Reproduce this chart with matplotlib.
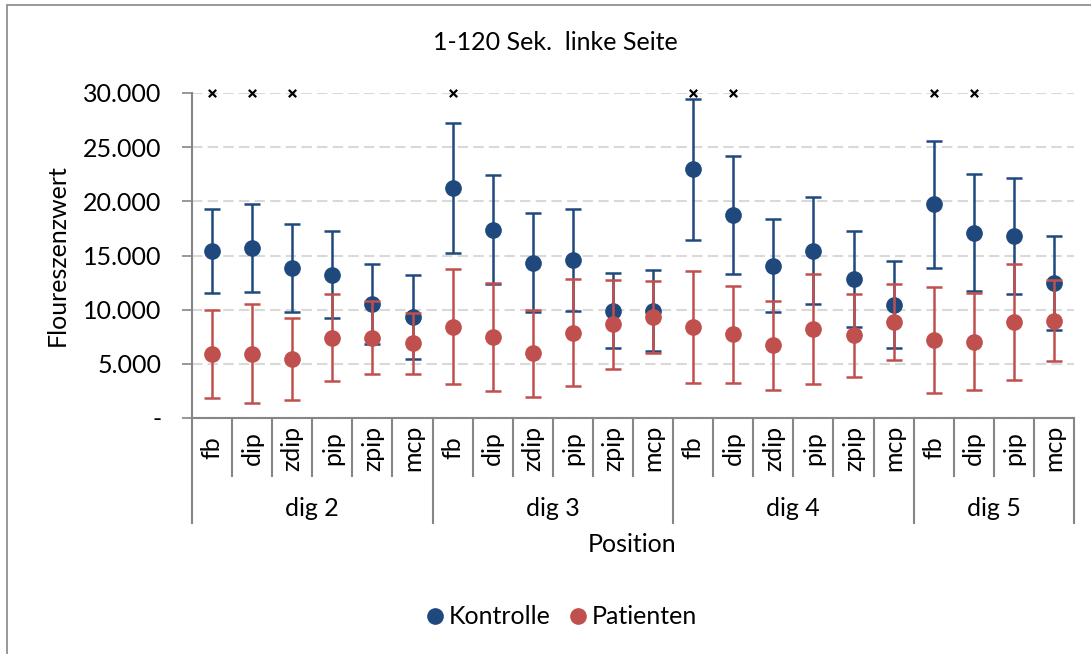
import matplotlib.pyplot as plt
import matplotlib.transforms as mtransforms
import numpy as np

plt.rcParams["font.family"] = ["Lato", "DejaVu Sans"]

# positions per finger
groups = ["dig 2", "dig 3", "dig 4", "dig 5"]
group_sizes = [6, 6, 6, 4]
positions = [
    "fb", "dip", "zdip", "pip", "zpip", "mcp",
    "fb", "dip", "zdip", "pip", "zpip", "mcp",
    "fb", "dip", "zdip", "pip", "zpip", "mcp",
    "fb", "dip", "pip", "mcp",
]

# mean and standard deviation of the fluorescence value
kontrolle_mean = [
    15450, 15720, 13820, 13230, 10520, 9320,
    21200, 17390, 14310, 14590, 9910, 9910,
    22950, 18740, 14060, 15450, 12830, 10460,
    19720, 17110, 16800, 12430,
]
kontrolle_sd = [
    3880, 4050, 4060, 4020, 3710, 3890,
    5990, 5050, 4570, 4710, 3490, 3770,
    6540, 5490, 4310, 4910, 4400, 4030,
    5850, 5420, 5320, 4340,
]
patienten_mean = [
    5880, 5910, 5480, 7390, 7420, 6890,
    8430, 7480, 5970, 7880, 8650, 9290,
    8370, 7750, 6710, 8190, 7630, 8860,
    7200, 7020, 8890, 8990,
]
patienten_sd = [
    4050, 4570, 3790, 4020, 3380, 2830,
    5320, 5020, 4030, 4970, 4120, 3320,
    5170, 4480, 4110, 5090, 3860, 3550,
    4920, 4480, 5350, 3720,
]

# positions flagged with an x on the top line
flag_idx = [0, 1, 2, 6, 12, 13, 18, 19]
flag_value = 30000

blue = "#1F497D"
red = "#C0504D"
axis_grey = "#868686"
fs = 18

W, H = 1091, 654
fig = plt.figure(figsize=(W / 100, H / 100), dpi=100)

# axes box in pixels: left 192, right 1074, top 93, bottom 418
left, right, top, bottom = 192, 1074, 93, 418
ax = fig.add_axes([left / W, 1 - bottom / H, (right - left) / W, (bottom - top) / H])

# outer chart border
fig.patches.append(plt.Rectangle((7 / W, -0.1), 1.5, 1 - 5 / H + 0.1,
                                 transform=fig.transFigure, fill=False,
                                 edgecolor=axis_grey, linewidth=1.2))

x = np.arange(len(positions))

ax.errorbar(x, kontrolle_mean, yerr=kontrolle_sd, fmt="o", color=blue,
            markersize=11, elinewidth=1.8, capsize=6, capthick=1.8,
            label="Kontrolle", zorder=3)
ax.errorbar(x, patienten_mean, yerr=patienten_sd, fmt="o", color=red,
            markersize=11, elinewidth=1.8, capsize=6, capthick=1.8,
            label="Patienten", zorder=4)

ax.scatter([x[i] for i in flag_idx], [flag_value] * len(flag_idx),
           marker="x", color="black", s=28, linewidths=1.6,
           clip_on=False, zorder=5)

ax.set_xlim(-0.5, len(positions) - 0.5)
ax.set_ylim(0, 30000)

ax.set_yticks(np.arange(0, 30001, 5000))
ax.set_yticklabels(["-"] + [f"{v:,}".replace(",", ".") for v in range(5000, 30001, 5000)],
                   fontsize=fs)
ax.tick_params(axis="y", direction="out", length=7, width=1.2, color=axis_grey, pad=15)
ax.yaxis.grid(True, color="#D9D9D9", linestyle=(0, (5, 2.5)), linewidth=1.5)
ax.set_axisbelow(True)

for side in ["top", "right"]:
    ax.spines[side].set_visible(False)
for side in ["left", "bottom"]:
    ax.spines[side].set_color(axis_grey)
    ax.spines[side].set_linewidth(1.5)

# two level category axis drawn below the plot
ax.set_xticks([])
trans = mtransforms.blended_transform_factory(ax.transData, ax.transAxes)
h = bottom - top
sep_small = -(476 - bottom) / h
sep_big = -(523 - bottom) / h
lab_y = -(448 - bottom) / h
grp_y = -(508 - bottom) / h

bounds = np.cumsum([0] + group_sizes)
for b in range(len(positions) + 1):
    y_end = sep_big if b in bounds else sep_small
    ax.plot([b - 0.5, b - 0.5], [0, y_end], transform=trans, color=axis_grey,
            linewidth=1.5, clip_on=False)

for i, name in enumerate(positions):
    ax.text(i, lab_y, name, transform=trans, rotation=90, ha="center", va="center",
            fontsize=fs)

for g, name in enumerate(groups):
    centre = (bounds[g] + bounds[g + 1]) / 2 - 0.5
    ax.text(centre, grp_y, name, transform=trans, ha="center", va="center", fontsize=fs)

fig.text(632 / W, 1 - 545 / H, "Position", ha="center", va="center", fontsize=fs)
ax.set_ylabel("Floureszenzwert", fontsize=fs, labelpad=10)

fig.text(555 / W, 1 - 43 / H, "1-120 Sek.  linke Seite", ha="center", va="center",
         fontsize=fs)

labels = ["Kontrolle", "Patienten"]
handles = [plt.Line2D([], [], marker="o", linestyle="none", color=c, markersize=11)
           for c in (blue, red)]
fig.legend(handles, labels, loc="center", bbox_to_anchor=(560 / W, 1 - 617 / H),
           ncol=2, frameon=False, fontsize=fs, handletextpad=0.05, columnspacing=0.6,
           handlelength=1.0)

fig.savefig("out.png", dpi=100)
